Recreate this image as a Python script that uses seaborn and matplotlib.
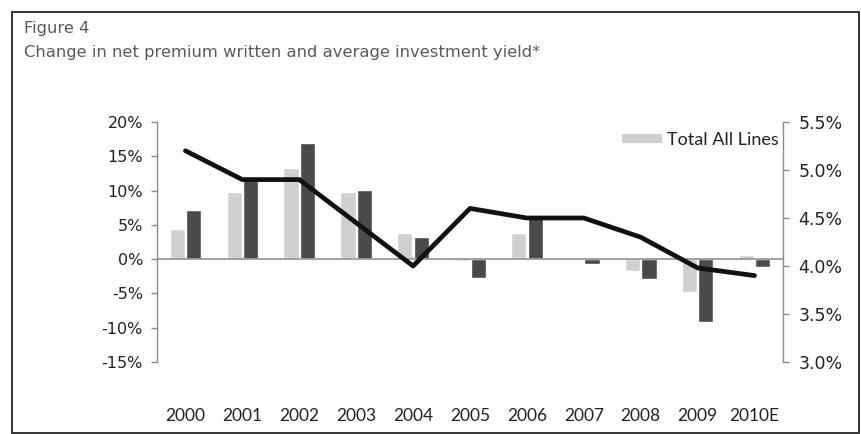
import numpy as np
import pandas as pd
import matplotlib
matplotlib.use("Agg")
import matplotlib.pyplot as plt
import matplotlib.patches as mpatches
from matplotlib import font_manager
import seaborn as sns

# Data
years = ["2000", "2001", "2002", "2003", "2004", "2005", "2006", "2007", "2008", "2009", "2010E"]
total_all_lines = [4.4, 9.8, 13.3, 9.8, 3.8, -0.2, 3.8, -0.1, -1.8, -4.8, 0.6]      # % change in NPW
segment_lines = [7.1, 11.9, 17.0, 10.1, 3.3, -2.7, 6.0, -0.7, -2.9, -9.2, -1.2]     # % change in NPW
investment_yield = [5.2, 4.9, 4.9, 4.45, 4.0, 4.6, 4.5, 4.5, 4.3, 3.98, 3.9]         # average yield, %

left_ticks = [-15, -10, -5, 0, 5, 10, 15, 20]
right_ticks = [3.0, 3.5, 4.0, 4.5, 5.0, 5.5]

df = pd.DataFrame({
    "year": years * 2,
    "change": total_all_lines + segment_lines,
    "series": ["Total All Lines"] * len(years) + ["Segment"] * len(years),
})

sns.set_theme(style="white")

installed = {f.name for f in font_manager.fontManager.ttflist}
label_font = [f for f in ["Liberation Sans Narrow", "Lato", "DejaVu Sans"] if f in installed]
legend_font = [f for f in ["Lato", "DejaVu Sans"] if f in installed]
title_font = ["DejaVu Sans"]

W, H = 861, 434
fig = plt.figure(figsize=(W / 100, H / 100), dpi=100)
ax = fig.add_axes([157 / W, 72 / H, (783 - 157) / W, 240 / H])

light, dark = "#d0d0d0", "#4a4a4a"
sns.barplot(data=df, x="year", y="change", hue="series", order=years,
            hue_order=["Total All Lines", "Segment"], palette=[light, dark],
            width=0.58, gap=0.08, saturation=1, legend=False, ax=ax)

ax.set_xlim(-0.5, len(years) - 0.5)
ax.set_ylim(-15, 20)
ax.set_yticks(left_ticks)
ax.set_yticklabels([f"{v}%" for v in left_ticks])
ax.axhline(0, color="#9a9a9a", lw=1.3, zorder=1)
ax.set_xlabel("")
ax.set_ylabel("")
for s in ["top", "bottom", "right"]:
    ax.spines[s].set_visible(False)
ax.spines["left"].set_color("#8a8a8a")
ax.spines["left"].set_linewidth(1.0)
ax.tick_params(axis="y", left=True, length=4, width=1, color="#8a8a8a",
               labelsize=11.5, labelcolor="#222222", pad=6)
ax.tick_params(axis="x", length=0, pad=33, labelsize=12.5, labelcolor="#222222")
for lab in ax.get_xticklabels():
    lab.set_family(label_font)

# Investment yield on the secondary axis
ax2 = ax.twinx()
sns.lineplot(x=np.arange(len(years)), y=investment_yield, color="#111111", lw=3.4,
             ax=ax2, legend=False)
ax2.set_ylim(3.0, 5.5)
ax2.set_yticks(right_ticks)
ax2.set_yticklabels([f"{v:.1f}%" for v in right_ticks])
ax2.set_xlim(-0.5, len(years) - 0.5)
for s in ["top", "bottom", "left"]:
    ax2.spines[s].set_visible(False)
ax2.spines["right"].set_color("#8a8a8a")
ax2.spines["right"].set_linewidth(1.0)
ax2.tick_params(axis="y", right=True, length=4, width=1, color="#8a8a8a",
                labelsize=12.5, labelcolor="#222222", pad=7)

handle = mpatches.Patch(facecolor=light, edgecolor="none", label="Total All Lines")
leg = ax2.legend(handles=[handle], loc="center right", bbox_to_anchor=(0.994, 0.925),
                 frameon=False, handlelength=2.2, handleheight=0.4, handletextpad=0.3,
                 borderpad=0, borderaxespad=0, prop={"family": legend_font, "size": 13})
for t in leg.get_texts():
    t.set_color("#222222")

# Titles
fig.text(24 / W, 1 - 33 / H, "Figure 4", family=title_font, fontsize=11.8,
         color="#5a5a5a")
fig.text(24 / W, 1 - 57 / H, "Change in net premium written and average investment yield*",
         family=title_font, fontsize=11.8, color="#5a5a5a")

# Outer frame
fig.add_artist(mpatches.Rectangle((12 / W, 1 / H), (859 - 12) / W, (433 - 12) / H,
                                  transform=fig.transFigure, fill=False,
                                  edgecolor="#333333", lw=1.4))

fig.savefig("out.png", dpi=100)
